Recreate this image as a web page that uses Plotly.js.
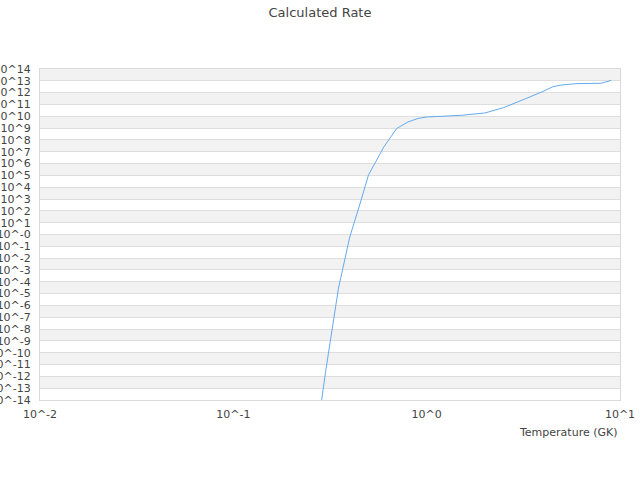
<!DOCTYPE html>
<html>
<head>
<meta charset="utf-8">
<script src="https://cdn.plot.ly/plotly-3.0.1.min.js"></script>
<style>
  html, body { margin: 0; padding: 0; background: #fff; }
  #plotly_area { width: 640px; height: 480px; }
</style>
</head>
<body>
<div id="plotly_area"></div>
<script>
// temperatures (GK) and rate
const temperature = [0.25, 0.3, 0.35, 0.4, 0.45, 0.5, 0.6, 0.7, 0.8, 0.9, 1, 1.5, 2, 2.5, 3, 3.5, 4, 4.5, 5, 6, 7, 8, 9];
const rate = [1e-21, 2.5e-12, 3e-5, 0.6, 3.1e2, 1.07e5, 2.5e7, 9.3e8, 3.3e9, 6.5e9, 8.7e9, 1.2e10, 1.9e10, 5.4e10, 1.8e11, 4.7e11, 1.26e12, 3.2e12, 4.5e12, 5.8e12, 6.2e12, 6.2e12, 1.1e13];

const yDecades = [];
for (let p = -14; p <= 14; p++) yDecades.push(p);
const yTickText = yDecades.map(p => p === 0 ? '10^-0' : '10^' + p);
const xTickVals = [0.01, 0.1, 1, 10];
const xTickText = ['10^-2', '10^-1', '10^0', '10^1'];

// alternating grey bands between decades
const bands = [];
for (let p = -13; p < 14; p += 2) {
    bands.push({
        type: 'rect', xref: 'x domain', yref: 'y domain',
        x0: 0, x1: 1,
        y0: (p + 14) / 28, y1: (p + 15) / 28,
        fillcolor: '#f2f2f2', line: { width: 0 }, layer: 'below',
    });
}

const data = [{
    x: temperature,
    y: rate,
    mode: 'lines',
    line: { color: '#64aaf0', width: 1 },
    hoverinfo: 'x+y',
}];

const layout = {
    width: 640,
    height: 480,
    margin: { t: 69, l: 40, r: 20, b: 80 },
    paper_bgcolor: '#ffffff',
    plot_bgcolor: 'rgba(0,0,0,0)',
    font: { family: 'DejaVu Sans, sans-serif', size: 11, color: '#444' },
    showlegend: false,
    title: {
        text: 'Calculated Rate',
        font: { size: 13, color: '#444' },
        x: 0.5, xanchor: 'center',
        y: 1 - 12 / 480, yanchor: 'middle',
    },
    xaxis: {
        type: 'log',
        range: [-2, 1],
        tickmode: 'array',
        tickvals: xTickVals,
        ticktext: xTickText,
        showgrid: false,
        zeroline: false,
        showline: true,
        mirror: true,
        linecolor: '#d9d9d9',
        ticks: 'outside',
        ticklen: 4,
        tickcolor: 'rgba(0,0,0,0)',
    },
    yaxis: {
        type: 'log',
        range: [-14, 14],
        tickmode: 'array',
        tickvals: yDecades.map(p => Math.pow(10, p)),
        ticktext: yTickText,
        showgrid: true,
        gridcolor: '#dedede',
        zeroline: false,
        showline: true,
        mirror: true,
        linecolor: '#d9d9d9',
        ticks: 'outside',
        ticklen: 6,
        tickcolor: 'rgba(0,0,0,0)',
    },
    shapes: bands,
    annotations: [{
        text: 'Temperature (GK)',
        xref: 'paper', yref: 'paper',
        x: 1, y: 0,
        xanchor: 'right', yanchor: 'top',
        yshift: -24,
        showarrow: false,
        font: { size: 11, color: '#444' },
    }],
};

Plotly.newPlot('plotly_area', data, layout, { displayModeBar: false });
</script>
</body>
</html>
